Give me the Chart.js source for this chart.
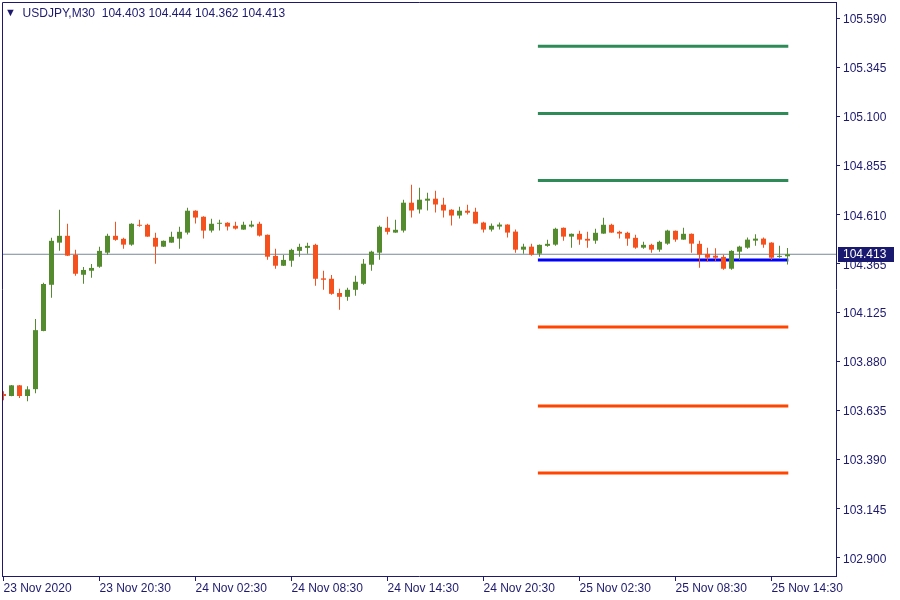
<!DOCTYPE html>
<html>
<head>
<meta charset="utf-8">
<script src="https://cdn.jsdelivr.net/npm/chart.js@4"></script>
<style>
    body { margin: 0; background: #fff; }
    #wrap { position: relative; width: 900px; height: 600px; }
    #titolo {
        position: absolute; left: 5px; top: 6px;
        font: 12px "Liberation Sans", Arial, sans-serif; color: #1d1a6e;
        white-space: pre;
    }
    #titolo span { font-size: 11px; position: relative; top: -1px; }
</style>
</head>
<body>
<div id="wrap">
    <canvas id="grafico" width="900" height="600"></canvas>
    <div id="titolo"><span>▼</span>  USDJPY,M30  104.403 104.444 104.362 104.413</div>
</div>
<script>
// USDJPY M30, una candela ogni 30 minuti (indice 0 = 23 Nov 14:30)
let aperture = [103.717,103.707,103.760,103.707,103.741,104.031,104.261,104.471,104.505,104.410,
    104.311,104.331,104.351,104.421,104.505,104.490,104.461,104.560,104.560,104.495,
    104.451,104.471,104.491,104.521,104.630,104.600,104.531,104.565,104.570,104.555,
    104.536,104.551,104.565,104.510,104.405,104.356,104.381,104.430,104.445,104.460,
    104.293,104.291,104.220,104.201,104.236,104.266,104.361,104.421,104.545,104.521,
    104.531,104.670,104.636,104.680,104.690,104.660,104.635,104.606,104.630,104.625,
    104.571,104.536,104.551,104.561,104.526,104.436,104.451,104.416,104.455,104.461,
    104.545,104.501,104.515,104.490,104.481,104.516,104.560,104.525,104.520,104.495,
    104.446,104.460,104.436,104.466,104.530,104.486,104.515,104.465,104.415,104.406,
    104.400,104.341,104.426,104.446,104.481,104.491,104.471,104.400,104.403]
let massimi = [103.730,103.762,103.762,103.755,104.091,104.271,104.495,104.635,104.565,104.435,
    104.350,104.365,104.450,104.515,104.575,104.495,104.567,104.585,104.565,104.520,
    104.482,104.525,104.550,104.645,104.632,104.602,104.590,104.585,104.572,104.575,
    104.575,104.580,104.575,104.512,104.440,104.410,104.440,104.465,104.470,104.465,
    104.331,104.310,104.241,104.246,104.306,104.390,104.431,104.556,104.600,104.585,
    104.685,104.760,104.745,104.720,104.730,104.695,104.637,104.650,104.660,104.645,
    104.575,104.566,104.571,104.563,104.536,104.465,104.466,104.462,104.485,104.545,
    104.547,104.517,104.530,104.525,104.540,104.595,104.565,104.530,104.525,104.510,
    104.475,104.466,104.480,104.535,104.532,104.545,104.517,104.480,104.445,104.443,
    104.411,104.433,104.456,104.496,104.513,104.496,104.473,104.456,104.444]
let minimi = [103.686,103.705,103.697,103.681,103.721,104.030,104.196,104.431,104.405,104.306,
    104.266,104.296,104.346,104.411,104.480,104.441,104.456,104.550,104.500,104.366,
    104.449,104.470,104.441,104.511,104.566,104.491,104.521,104.531,104.531,104.536,
    104.535,104.546,104.501,104.386,104.341,104.355,104.351,104.401,104.416,104.256,
    104.236,104.211,104.136,104.181,104.206,104.261,104.331,104.386,104.511,104.520,
    104.521,104.596,104.616,104.631,104.621,104.596,104.556,104.591,104.611,104.565,
    104.521,104.526,104.536,104.496,104.421,104.416,104.406,104.401,104.451,104.456,
    104.481,104.446,104.461,104.446,104.466,104.515,104.520,104.491,104.456,104.441,
    104.441,104.421,104.426,104.461,104.476,104.485,104.421,104.346,104.375,104.380,
    104.336,104.336,104.385,104.441,104.456,104.446,104.385,104.396,104.362]
let chiusure = [103.707,103.760,103.707,103.740,104.035,104.265,104.480,104.505,104.406,104.316,
    104.335,104.345,104.430,104.505,104.485,104.461,104.565,104.555,104.501,104.451,
    104.480,104.500,104.525,104.630,104.596,104.531,104.565,104.570,104.551,104.541,
    104.560,104.561,104.506,104.401,104.356,104.385,104.435,104.450,104.455,104.291,
    104.286,104.216,104.201,104.236,104.276,104.366,104.426,104.550,104.525,104.535,
    104.670,104.631,104.685,104.690,104.661,104.631,104.606,104.630,104.620,104.566,
    104.536,104.555,104.561,104.521,104.436,104.451,104.411,104.460,104.465,104.540,
    104.501,104.515,104.486,104.481,104.520,104.560,104.521,104.516,104.491,104.446,
    104.460,104.436,104.475,104.531,104.486,104.515,104.466,104.411,104.396,104.396,
    104.341,104.430,104.451,104.486,104.491,104.461,104.396,104.402,104.413]

// etichette asse tempo (una ogni 12 candele)
let tickTempo = [0, 12, 24, 36, 48, 60, 72, 84, 96]
let etichetteTempo = ["23 Nov 2020", "23 Nov 20:30", "24 Nov 02:30", "24 Nov 08:30", "24 Nov 14:30",
    "24 Nov 20:30", "25 Nov 02:30", "25 Nov 08:30", "25 Nov 14:30"]
let tickPrezzo = [105.590, 105.345, 105.100, 104.855, 104.610, 104.365, 104.125, 103.880, 103.635, 103.390, 103.145, 102.900]

// livelli orizzontali
let livelli = [105.450, 105.115, 104.780, 104.384, 104.051, 103.657, 103.323]
let coloriLivelli = ["#2e8b57", "#2e8b57", "#2e8b57", "#0000ff", "#ff4500", "#ff4500", "#ff4500"]
let livelloDa = 66.8
let livelloA = 98.1

const VERDE = "#558b2f"
const ROSSO = "#f4511e"
const BLU_ASSE = "#1d1a6e"
const xMin = -0.1875
const xMax = 104.0625

window.onload = () => {
    let candele = aperture.map((o, i) => ({ x: i, y: [o, chiusure[i]] }))
    let stoppini = aperture.map((o, i) => ({ x: i, y: [minimi[i], massimi[i]] }))
    let coloreCandela = (ctx) => chiusure[ctx.dataIndex] >= aperture[ctx.dataIndex] ? VERDE : ROSSO
    let ultimo = chiusure[chiusure.length - 1]

    let datasets = [
        {
            type: "bar", data: candele, grouped: false, order: 1,
            backgroundColor: coloreCandela, borderWidth: 0, maxBarThickness: 5, minBarLength: 1
        },
        {
            type: "bar", data: stoppini, grouped: false, order: 2,
            backgroundColor: coloreCandela, borderWidth: 0, maxBarThickness: 1, minBarLength: 1
        }
    ]
    livelli.forEach((p, k) => {
        datasets.push({
            type: "line", order: 3,
            data: [{ x: livelloDa, y: p }, { x: livelloA, y: p }],
            borderColor: coloriLivelli[k], borderWidth: 3, pointRadius: 0, borderCapStyle: "butt"
        })
    })
    // linea del prezzo corrente
    datasets.push({
        type: "line", order: 4,
        data: [{ x: xMin, y: ultimo }, { x: xMax, y: ultimo }],
        borderColor: "#778899", borderWidth: 1, pointRadius: 0
    })

    let cornice = {
        id: "cornice",
        afterDraw(chart) {
            let c = chart.ctx, a = chart.chartArea
            c.save()
            c.strokeStyle = BLU_ASSE
            c.lineWidth = 1
            c.beginPath()
            c.moveTo(a.left + 0.5, a.bottom)
            c.lineTo(a.left + 0.5, a.top + 0.5)
            c.lineTo(a.right, a.top + 0.5)
            c.stroke()
            // etichetta prezzo corrente
            let y = chart.scales.y.getPixelForValue(ultimo)
            c.fillStyle = "#191970"
            c.fillRect(a.right + 2, Math.round(y) - 7, 56, 15)
            c.fillStyle = "#ffffff"
            c.font = '12px "Liberation Sans", Arial, sans-serif'
            c.textBaseline = "middle"
            c.fillText(ultimo.toFixed(3), a.right + 7, Math.round(y) + 1)
            c.restore()
        }
    }

    let fontAsse = { family: '"Liberation Sans", Arial, sans-serif', size: 12 }
    let nienteMargini = (ax) => {
        ax.paddingTop = 0; ax.paddingBottom = 0; ax.paddingLeft = 0; ax.paddingRight = 0
    }

    new Chart(document.getElementById("grafico"), {
        type: "bar",
        data: { datasets: datasets },
        options: {
            responsive: false,
            animation: false,
            layout: { padding: { left: 2, top: 2, right: 0, bottom: 0 } },
            plugins: { legend: { display: false }, tooltip: { enabled: false } },
            scales: {
                x: {
                    type: "linear", min: xMin, max: xMax, position: "bottom", offset: false,
                    afterBuildTicks: (ax) => { ax.ticks = tickTempo.map(v => ({ value: v })) },
                    afterFit: (ax) => { ax.height = 24; nienteMargini(ax) },
                    ticks: {
                        callback: (v) => etichetteTempo[tickTempo.indexOf(v)],
                        align: "start", maxRotation: 0, autoSkip: false,
                        color: BLU_ASSE, font: fontAsse, padding: 0
                    },
                    grid: { drawOnChartArea: false, drawTicks: true, tickLength: 5, color: BLU_ASSE, offset: false },
                    border: { color: BLU_ASSE }
                },
                y: {
                    type: "linear", position: "right", min: 102.810, max: 105.670,
                    afterBuildTicks: (ax) => { ax.ticks = tickPrezzo.map(v => ({ value: v })) },
                    afterFit: (ax) => { ax.width = 64; nienteMargini(ax) },
                    ticks: {
                        callback: (v) => v.toFixed(3), autoSkip: false,
                        color: BLU_ASSE, font: fontAsse, padding: 3, labelOffset: 1.5
                    },
                    grid: { drawOnChartArea: false, drawTicks: true, tickLength: 4, color: BLU_ASSE },
                    border: { color: BLU_ASSE }
                }
            }
        },
        plugins: [cornice]
    })
}
</script>
</body>
</html>
